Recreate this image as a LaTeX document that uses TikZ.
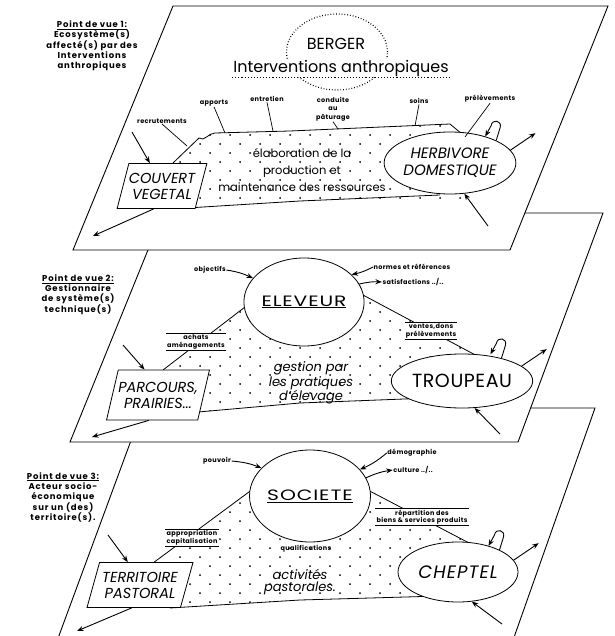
\documentclass[tikz,border=0pt]{standalone}
\usepackage{fontspec}
\setmainfont{Poppins}
\usetikzlibrary{shapes.geometric,arrows.meta}

% staggered field of dots: x0, y0, last row index, last column index
\newcommand\dotrows[4]{%
  \foreach \i in {0,...,#3}{%
    \foreach \j in {0,...,#4}{%
      \fill ({#1+20*\j+10*mod(\i,2)},{#2+9*\i}) circle (1pt);
    }%
  }%
}
% hairpin "return" arrow and straight "output" arrow leaving a herd ellipse
\newcommand\outflows[3]{% node, anchor of hairpin, anchor of straight arrow
  \begin{scope}[shift={(#1.#2)}]
    \draw[arr] (0,0) -- (4,-13) .. controls (6,-20) and (-4,-22) .. (-5,-15) -- (-11,-4);
  \end{scope}
  \begin{scope}[shift={(#1.#3)}]
    \draw[arr] (0,0) -- (25,-17);
  \end{scope}
}

\begin{document}
\begin{tikzpicture}[x=1pt,y=-1pt,
  plane/.style={draw, line width=0.9pt, fill=white, line join=miter},
  edge/.style={line width=0.8pt},
  lead/.style={line width=0.7pt},
  arr/.style={line width=0.9pt, -{Stealth[length=6.5pt,width=5pt]}},
  lbl/.style={font=\fontsize{6.5}{7.5}\selectfont\bfseries\addfontfeature{LetterSpace=5}, inner sep=0.5pt, align=center},
  box/.style={lbl, fill=white, inner sep=1pt},
  pv/.style={font=\fontsize{8.5}{10}\selectfont\bfseries\addfontfeature{LetterSpace=10}, align=center, inner sep=0pt},
  agent/.style={ellipse, draw, line width=0.8pt, fill=white, inner sep=0pt},
  wide/.style={font=\fontsize{15}{15}\selectfont\addfontfeature{FakeStretch=1.35,LetterSpace=6}},
  herd/.style={ellipse, draw, line width=0.8pt, fill=white, inner sep=0pt, align=center,
    font=\fontsize{15}{17}\selectfont\itshape},
  land/.style={trapezium, trapezium left angle=66, trapezium right angle=114,
    trapezium stretches=true, draw, line width=0.8pt, fill=white, inner sep=0pt,
    align=center, font=\fontsize{14.5}{16}\selectfont\itshape},
  big/.style={font=\fontsize{11.5}{17}\selectfont, align=center, inner sep=0pt},
  mid/.style={font=\fontsize{13}{12.5}\selectfont\itshape, align=center, inner sep=0pt},
]
\useasboundingbox (0,0) rectangle (614,636);
\clip (0,0) rectangle (614,636);

% ================= level 3 : territory =================
\draw[plane] (143,408) -- (595,408) -- (506,660) -- (50,660) -- cycle;
\begin{scope}
  \clip (153,563) -- (255,487) -- (365,487) -- (471,544) -- (470,598) -- (300,600) -- (170,608) -- (160,590) -- cycle;
  \dotrows{140}{485}{14}{17}
\end{scope}
\draw[edge] (153,563) -- (257,486);
\draw[edge] (362,487) -- (471,544);
\draw[edge] (170,608) -- (300,600) -- (440,596);

\node[pv] (pv3) at (63,497) {\underline{Point de vue 3:}\\Acteur socio-\\économique\\sur un (des)\\territoire(s).};

\node[agent, wide, minimum width=108pt, minimum height=92pt] (soc) at (310,496) {\underline{SOCIETE}};
\node[herd, minimum width=120pt, minimum height=60pt,
  font=\fontsize{18}{18}\selectfont\itshape\addfontfeature{LetterSpace=6}] (chep) at (458,572) {CHEPTEL};
\node[land, minimum width=106pt, minimum height=45pt] (terr) at (140,585) {TERRITOIRE\\PASTORAL};

\node[lbl] (pouv) at (217,461) {pouvoir};
\node[lbl] (demo) at (412,453) {démographie};
\node[lbl] (cult) at (413,470) {culture ../..};
\node[box] (appr) at (192,538) {appropriation\\capitalisation};
\draw[lead] (appr.north west) -- (appr.north east);
\draw[lead] (appr.south west) -- (appr.south east);
\node[box] (rep) at (422,517) {répartition des\\biens \& services produits};
\draw[lead] (rep.north west) -- (rep.north east);
\draw[lead] (rep.south west) -- (rep.south east);
\node[lbl] (qual) at (306,549) {qualifications};
\node[mid] (act) at (300,582) {activités\\pastorales.};

\draw[arr] (pouv.east) to[bend left=8] (soc.150);
\draw[arr] (demo.west) to[bend left=8] (soc.28);
\draw[arr] (soc.18) to[bend left=8] (cult.west);
\coordinate (t3in) at (108,535);
\coordinate (t3out) at (77,631);
\draw[arr] (t3in) -- (terr.118);
\draw[arr] (terr.-110) -- (t3out);
\coordinate (c3b) at (502,624);
\draw[arr] (c3b) -- (chep.-65);
\outflows{chep}{28}{12}

% ================= level 2 : technical system =================
\draw[plane] (163,213) -- (603,213) -- (518,442) -- (70,442) -- cycle;
\begin{scope}
  \clip (163,370) -- (256,296) -- (350,287) -- (481,358) -- (420,400) -- (300,403) -- (187,413) -- (170,400) -- cycle;
  \dotrows{150}{285}{14}{17}
\end{scope}
\draw[edge] (163,370) -- (258,297);
\draw[edge] (348,287) -- (481,358);
\draw[edge] (187,413) -- (300,403) -- (430,398);

\node[pv] (pv2) at (78,295) {\underline{Point de vue 2:}\\Gestionnaire\\de système(s)\\technique(s)};

\node[agent, wide, minimum width=96pt, minimum height=88pt] (elev) at (304,302) {\underline{ELEVEUR}};
\node[herd, minimum width=120pt, minimum height=54pt,
  font=\fontsize{19}{19}\selectfont\addfontfeature{LetterSpace=3}] (troup) at (462,381) {TROUPEAU};
\node[land, minimum width=96pt, minimum height=50pt] (parc) at (158,395) {PARCOURS,\\PRAIRIES...};

\node[lbl] (obj) at (210,270) {objectifs};
\node[lbl] (norm) at (412,267) {normes et références};
\node[lbl] (satis) at (413,282) {satisfactions ../..};
\node[box] (ach) at (196,342) {achats\\aménagements};
\draw[lead] (ach.north west) -- (ach.north east);
\draw[lead] (ach.south west) -- (ach.south east);
\node[box] (vent) at (431,331) {ventes,dons\\prélèvements};
\draw[lead] (vent.north west) -- (vent.north east);
\draw[lead] (vent.south west) -- (vent.south east);
\node[mid] (gest) at (311,383) {gestion par\\les pratiques\\d'élevage};

\draw[arr] (obj.east) to[bend left=8] (elev.155);
\draw[arr] (norm.west) to[bend left=8] (elev.30);
\draw[arr] (elev.18) to[bend left=8] (satis.west);
\coordinate (t2in) at (123,345);
\coordinate (t2out) at (92,437);
\draw[arr] (t2in) -- (parc.118);
\draw[arr] (parc.-110) -- (t2out);
\coordinate (c2b) at (500,434);
\draw[arr] (c2b) -- (troup.-65);
\outflows{troup}{30}{14}

% ================= level 1 : ecosystem =================
\draw[plane] (173,6) -- (608,6) -- (510,250) -- (73,250) -- cycle;
\begin{scope}
  \clip (173,163) -- (200,138) -- (213,133) -- (290,131) -- (450,124) -- (468,139) -- (470,200) -- (300,201) -- (187,208) -- (173,190) -- cycle;
  \dotrows{160}{126}{10}{17}
\end{scope}
\draw[edge] (173,163) -- (199,138) to[out=-40,in=180] (215,133) -- (290,131) -- (450,124) -- (468,139);
\draw[edge] (187,208) -- (300,201) -- (440,195);

\node[pv] (pv1) at (92,46) {\underline{Point de vue 1:}\\Ecosystème(s)\\affecté(s) par des\\Interventions\\anthropiques};

\node[agent, dotted, line width=1.2pt, fill=none, minimum width=101pt, minimum height=76pt] (berg) at (337,52) {};
\node[font=\fontsize{16}{16}\selectfont, inner sep=0pt] (bergt) at (336,44) {BERGER};
\node[font=\fontsize{16}{16}\selectfont, inner sep=1pt, fill=white] (interv) at (341,68) {Interventions anthropiques};
\draw[dotted, line width=1.1pt] (interv.south west) -- (interv.south east);

\node[big] (elab) at (302,170) {élaboration de la\\production et\\maintenance des ressources};
\node[herd, minimum width=124pt, minimum height=62pt] (herb) at (450,163) {HERBIVORE\\DOMESTIQUE};
\node[land, minimum width=84pt, minimum height=45pt] (couv) at (162,186) {COUVERT\\VEGETAL};

\node[lbl] (recr) at (162,121) {recrutements};
\node[lbl] (appo) at (214,103) {apports};
\node[lbl] (entr) at (267,99) {entretien};
\node[lbl, font=\fontsize{6.5}{8.5}\selectfont\bfseries\addfontfeature{LetterSpace=5}] (cond) at (333,109) {conduite\\au\\pâturage};
\node[lbl] (soin) at (419,101) {soins};
\node[lbl] (prel) at (490,99) {prélèvements};
\coordinate (recrE) at (187,146);
\coordinate (appoE) at (225,133);
\coordinate (entrE) at (273,131);
\coordinate (condE) at (338,129);
\coordinate (soinE) at (415,126);
\coordinate (prelE) at (465,137);
\draw[lead] (recr.south) -- (recrE);
\draw[lead] (appo.south) -- (appoE);
\draw[lead] (entr.south) -- (entrE);
\draw[lead] (cond.south) -- (condE);
\draw[lead] (soin.south) -- (soinE);
\draw[lead] (prel.south) -- (prelE);

\coordinate (t1in) at (132,132);
\coordinate (t1out) at (93,236);
\draw[arr] (t1in) -- (couv.118);
\draw[arr] (couv.-110) -- (t1out);
\coordinate (c1b) at (488,226);
\draw[arr] (c1b) -- (herb.-65);
\outflows{herb}{26}{12}
\end{tikzpicture}
\end{document}
